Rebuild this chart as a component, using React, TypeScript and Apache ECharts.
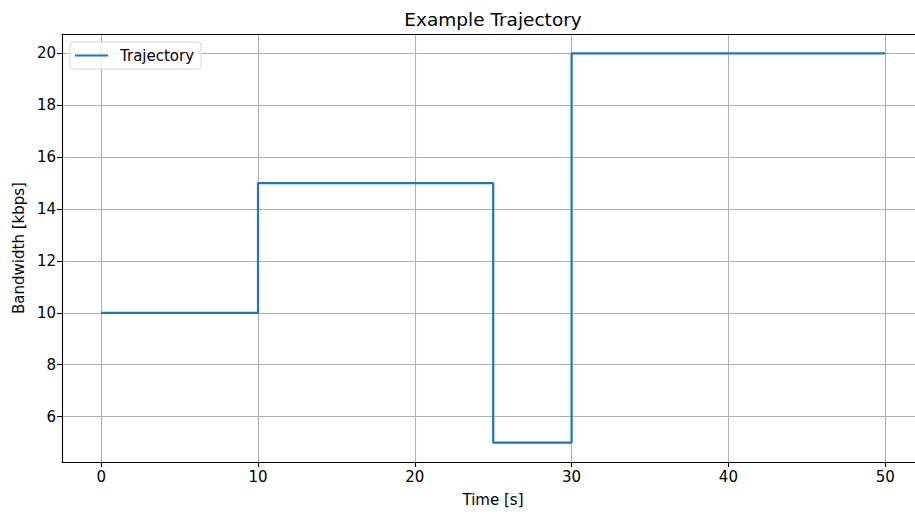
import React, { useEffect, useRef } from "react";
import * as echarts from "echarts";

const times = [0, 10, 25, 30, 50];
const bandwidth = [10, 15, 5, 20, 20];
const xTicks = [0, 10, 20, 30, 40, 50];
const yTicks = [6, 8, 10, 12, 14, 16, 18, 20];

const FONT = "DejaVu Sans";

export default function App() {
  const ref = useRef<HTMLDivElement>(null);
  useEffect(() => {
    if (!ref.current) return;
    const chart = echarts.init(ref.current, undefined, { renderer: "svg" });
    chart.setOption({
      animation: false,
      backgroundColor: "#ffffff",
      textStyle: { fontFamily: FONT },
      title: {
        text: "Example Trajectory",
        left: 493,
        textAlign: "center",
        top: 10,
        padding: 0,
        textStyle: { fontFamily: FONT, fontSize: 18.5, fontWeight: "normal", color: "#000" },
      },
      legend: {
        show: true,
        left: 70,
        top: 42,
        icon: "rect",
        itemWidth: 33,
        itemHeight: 2,
        itemGap: 8,
        padding: [5, 7, 5, 5],
        backgroundColor: "rgba(255,255,255,0.8)",
        borderColor: "#d6d6d6",
        borderWidth: 1,
        borderRadius: 3,
        textStyle: { fontFamily: FONT, fontSize: 15, lineHeight: 17, color: "#000", padding: [0, 0, 0, 7] },
        data: ["Trajectory"],
      },
      grid: {
        left: 62,
        top: 34,
        right: 0,
        bottom: 52,
        show: false,
        containLabel: false,
      },
      xAxis: [
        {
          type: "value",
          min: -2.5,
          max: 51.9,
          name: "Time [s]",
          nameLocation: "middle",
          nameGap: 30,
          nameTextStyle: { fontFamily: FONT, fontSize: 15, color: "#000", padding: [0, 0, 0, 9] },
          axisLine: { show: true, onZero: false, lineStyle: { color: "#000", width: 1.1 } },
          axisTick: { show: true, customValues: xTicks, length: 5, lineStyle: { color: "#000", width: 1.1 } },
          axisLabel: { customValues: xTicks, color: "#000", fontSize: 15, fontFamily: FONT, margin: 7 },
          splitLine: { show: true, lineStyle: { color: "#b0b0b0", width: 1.1 } },
        },
        {
          type: "value",
          position: "top",
          min: -2.5,
          max: 51.9,
          axisLine: { show: true, onZero: false, lineStyle: { color: "#000", width: 1.1 } },
          axisTick: { show: false },
          axisLabel: { show: false },
          splitLine: { show: false },
        },
      ],
      yAxis: {
        type: "value",
        min: 4.25,
        max: 20.75,
        name: "Bandwidth [kbps]",
        nameLocation: "middle",
        nameGap: 35,
        nameRotate: 90,
        nameTextStyle: { fontFamily: FONT, fontSize: 15, color: "#000" },
        axisLine: { show: true, onZero: false, lineStyle: { color: "#000", width: 1.1 } },
        axisTick: { show: true, customValues: yTicks, length: 5, lineStyle: { color: "#000", width: 1.1 } },
        axisLabel: { customValues: yTicks, color: "#000", fontSize: 15, fontFamily: FONT, margin: 6 },
        splitLine: { show: true, lineStyle: { color: "#b0b0b0", width: 1.1 } },
      },
      series: [
        {
          name: "Trajectory",
          type: "line",
          step: "end",
          showSymbol: false,
          symbol: "none",
          xAxisIndex: 0,
          data: times.map((t, i) => [t, bandwidth[i]]),
          lineStyle: { color: "#1f77b4", width: 2.2 },
          itemStyle: { color: "#1f77b4" },
        },
      ],
    });
    return () => chart.dispose();
  }, []);
  return (
    <div
      ref={ref}
      style={{ position: "fixed", left: 0, top: 0, width: 915, height: 514 }}
    />
  );
}
